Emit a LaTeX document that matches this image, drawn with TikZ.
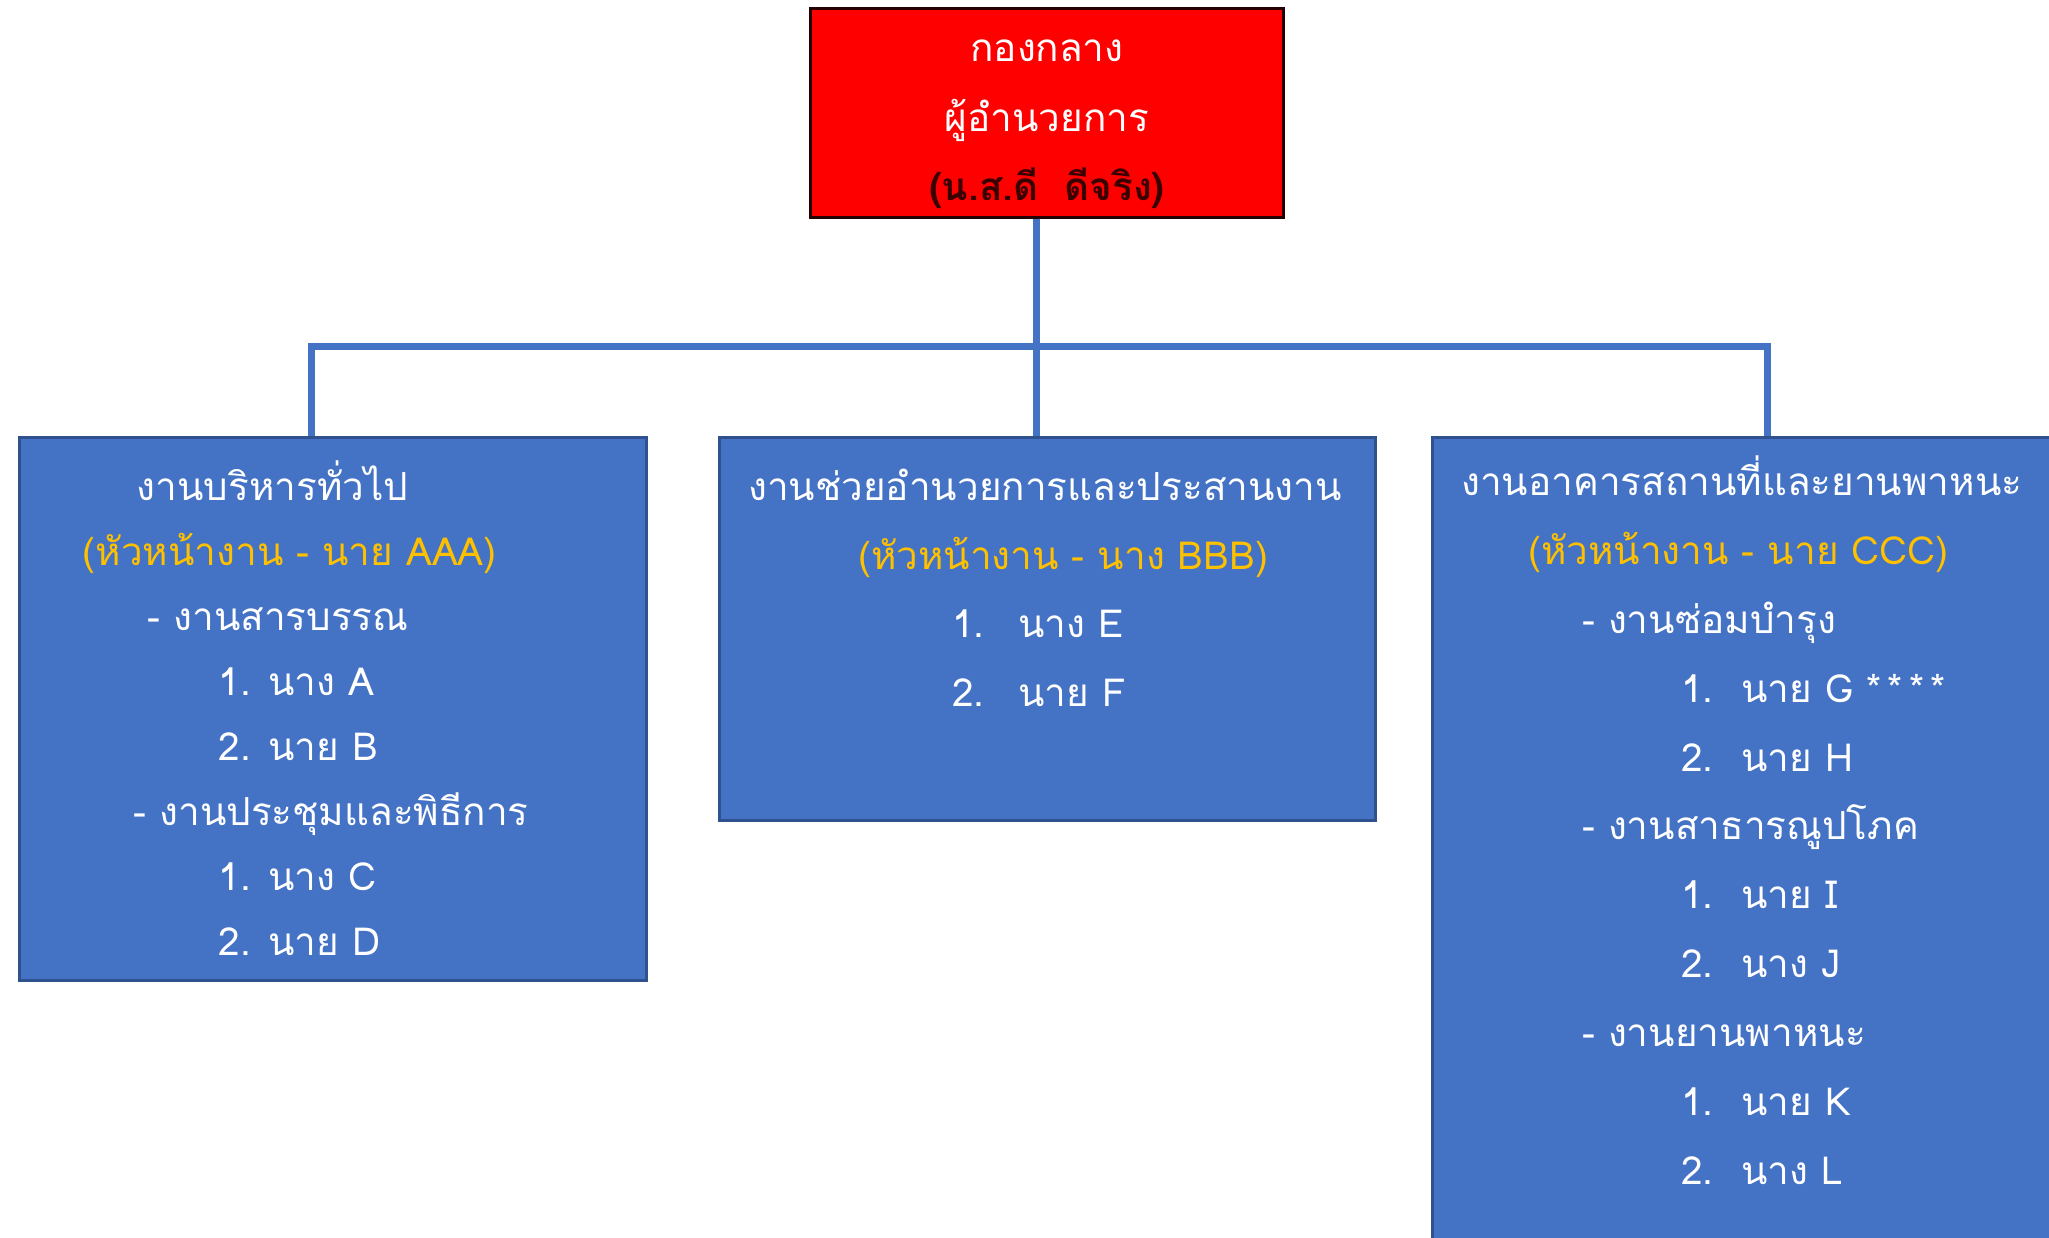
\documentclass[tikz,border=0pt]{standalone}
\usepackage{fontspec}
\usepackage{xcolor}
\usetikzlibrary{trees,positioning}
\newfontfamily\thaifont[Script=Thai]{Loma}
\definecolor{boxblue}{HTML}{4472C4}
\definecolor{boxedge}{HTML}{2F528F}
\definecolor{headred}{HTML}{FF0000}
\definecolor{headyellow}{HTML}{FFC000}
\definecolor{namedark}{HTML}{3A0000}

\begin{document}
\begin{tikzpicture}[level distance=32.35mm, sibling distance=71.4mm,
    every node/.style = {font=\thaifont\fontsize{11}{18.5}\selectfont,
      text=white, inner sep=0pt},
    topbox/.style = {rectangle, draw=black!85!red, line width=0.3mm,
      fill=headred, minimum width=47.3mm, minimum height=20.9mm},
    unitbox/.style = {rectangle, draw=boxedge, line width=0.3mm,
      fill=boxblue, anchor=north},
    listtext/.style = {align=left},
    edge from parent/.style = {draw=boxblue, line width=0.7mm},
    fork/.style = {edge from parent path = {([xshift=-1.1mm]\tikzparentnode.south)
      -- ++(0,-12.75mm) -| ([xshift=#1]\tikzchildnode.north)}}]
  \useasboundingbox (0,0) rectangle (204.9mm,-123.7mm);
  \node[topbox] (dir) at (104.7mm,-11.25mm) {}
    child[fork=-2.2mm]{node[unitbox, minimum width=62.7mm, minimum height=54.3mm] (admin) {}}
    child[fork=-1.1mm]{node[unitbox, minimum width=65.6mm, minimum height=38.3mm] (coord) {}}
    child[fork=0.6mm]{node[unitbox, minimum width=65.8mm, minimum height=85mm] (bldg) {}};
  \node[align=center, yshift=-1.2mm, font=\thaifont\fontsize{11}{19.8}\selectfont]
    (dirtext) at (dir) {กองกลาง\\ผู้อำนวยการ\\{\bfseries\color{namedark}(น.ส.ดี\ \ ดีจริง)}};

  \node[listtext, below right=2.4mm and 6.4mm of admin.north west] (adminlist) {%
    \hspace*{5.4mm}งานบริหารทั่วไป\\
    {\color{headyellow}(หัวหน้างาน - นาย AAA)}\\
    \hspace*{6.5mm}- งานสารบรรณ\\
    \hspace*{13.6mm}1. นาง A\\
    \hspace*{13.6mm}2. นาย B\\
    \hspace*{5.1mm}- งานประชุมและพิธีการ\\
    \hspace*{13.6mm}1. นาง C\\
    \hspace*{13.6mm}2. นาย D};
  \node[listtext, below right=3.2mm and 3mm of coord.north west,
    font=\thaifont\fontsize{11}{19.6}\selectfont] (coordlist) {%
    งานช่วยอำนวยการและประสานงาน\\
    \hspace*{11mm}{\color{headyellow}(หัวหน้างาน - นาง BBB)}\\
    \hspace*{20.4mm}1.\hspace{3.4mm}นาง E\\
    \hspace*{20.4mm}2.\hspace{3.4mm}นาย F};
  \node[listtext, below right=1.9mm and 3mm of bldg.north west,
    font=\thaifont\fontsize{11}{19.6}\selectfont] (bldglist) {%
    งานอาคารสถานที่และยานพาหนะ\\
    \hspace*{6.7mm}{\color{headyellow}(หัวหน้างาน - นาย CCC)}\\
    \hspace*{12.1mm}- งานซ่อมบำรุง\\
    \hspace*{22mm}1.\hspace{2.8mm}นาย G *\,*\,*\,*\\
    \hspace*{22mm}2.\hspace{2.8mm}นาย H\\
    \hspace*{12.1mm}- งานสาธารณูปโภค\\
    \hspace*{22mm}1.\hspace{2.8mm}นาย I\\
    \hspace*{22mm}2.\hspace{2.8mm}นาง J\\
    \hspace*{12.1mm}- งานยานพาหนะ\\
    \hspace*{22mm}1.\hspace{2.8mm}นาย K\\
    \hspace*{22mm}2.\hspace{2.8mm}นาง L};
\end{tikzpicture}
\end{document}
